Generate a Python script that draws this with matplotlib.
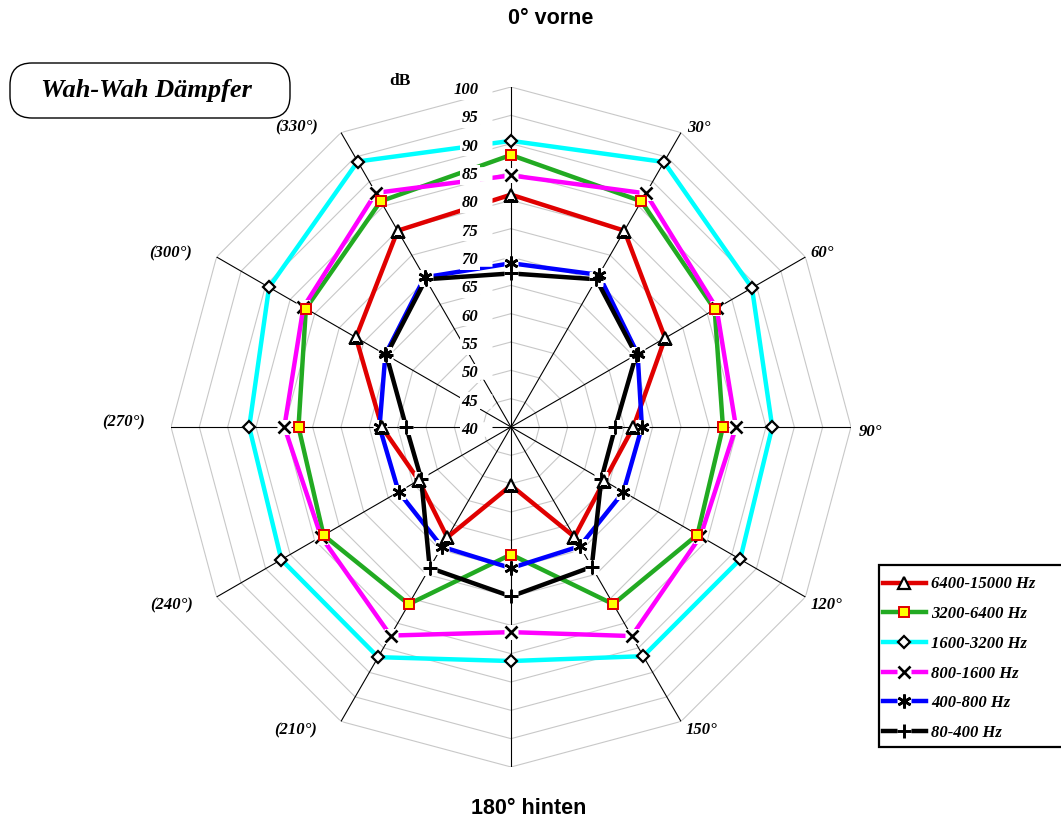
import numpy as np
import matplotlib
matplotlib.use("Agg")
import matplotlib.pyplot as plt
from matplotlib.lines import Line2D
from matplotlib.patches import FancyBboxPatch, Rectangle
from matplotlib.transforms import IdentityTransform, ScaledTranslation

# directions in degrees, clockwise from front
angles = [0, 30, 60, 90, 120, 150, 180, 210, 240, 270, 300, 330]
angle_labels = ["", "30°", "60°", "90°", "120°", "150°", "",
                "(210°)", "(240°)", "(270°)", "(300°)", "(330°)"]
db_ticks = list(range(40, 101, 5))

band_names = ["6400-15000 Hz", "3200-6400 Hz", "1600-3200 Hz",
              "800-1600 Hz", "400-800 Hz", "80-400 Hz"]

# level per direction (dB)
hz_6400_15000 = [81.0, 80.0, 71.4, 61.6, 59.0, 62.4, 50.3, 62.5, 58.8, 62.8, 71.6, 80.0]
hz_3200_6400 = [88.0, 86.0, 81.5, 77.4, 78.0, 76.1, 62.5, 76.1, 78.2, 77.5, 81.8, 86.0]
hz_1600_3200 = [90.5, 94.0, 89.1, 86.1, 86.7, 86.7, 81.3, 86.9, 86.8, 86.2, 89.3, 94.1]
hz_800_1600 = [84.4, 87.6, 81.9, 79.7, 78.6, 82.6, 76.2, 82.5, 78.7, 80.0, 82.3, 87.7]
hz_400_800 = [68.9, 71.0, 65.8, 63.1, 62.9, 64.3, 64.9, 64.4, 62.9, 63.2, 65.6, 70.5]
hz_80_400 = [67.1, 70.1, 65.5, 58.4, 58.4, 68.5, 69.9, 68.7, 58.3, 58.5, 65.4, 70.1]

W, H = 1061, 825
fig = plt.figure(figsize=(W / 100, H / 100), dpi=100)
fig.patch.set_facecolor("white")

ax = fig.add_axes([171 / W, 58 / H, 680 / W, 680 / H], projection="polar")
ax.set_theta_zero_location("N")
ax.set_theta_direction(-1)
ax.set_ylim(40, 100)
ax.grid(False)
ax.set_xticks([])
ax.set_yticks([])
for sp in ax.spines.values():
    sp.set_visible(False)

theta = np.deg2rad(angles)
theta_c = np.append(theta, theta[0])

serif = "Liberation Serif"

# polygon grid and spokes
for v in db_ticks[1:]:
    ax.plot(theta_c, [v] * len(theta_c), color="#c8c8c8", lw=0.8, zorder=1)
for t in theta:
    ax.plot([t, t], [40, 100], color="black", lw=0.8, zorder=1.5)

red = "#e00000"
styles = [
    dict(color=red, marker="^", ms=8, mfc="white", mec="black", mew=1.6, box=False),
    dict(color="#22aa22", marker="s", ms=7.5, mfc="#ffff00", mec=red, mew=1.4, box=False),
    dict(color="#00ffff", marker="D", ms=6, mfc="white", mec="black", mew=1.6, box=False),
    dict(color="#ff00ff", marker="x", ms=8.5, mfc="none", mec="black", mew=1.9, box=True),
    dict(color="#0000ff", marker=(6, 2, 0), ms=10, mfc="none", mec="black", mew=1.9, box=True),
    dict(color="black", marker="+", ms=10, mfc="none", mec="black", mew=2.1, box=True),
]
series = [hz_6400_15000, hz_3200_6400, hz_1600_3200, hz_800_1600, hz_400_800, hz_80_400]
draw_order = [5, 4, 3, 2, 1, 0]

for i in draw_order:
    st = styles[i]
    vals = np.append(series[i], series[i][0])
    ax.plot(theta_c, vals, color=st["color"], lw=3.2, solid_joinstyle="miter",
            zorder=2 + i * 0.01)
for i in draw_order:
    if styles[i]["box"]:
        ax.plot(theta, series[i], ls="none", marker="s", ms=9.5, mfc="white",
                mec="none", zorder=3)
for i in draw_order:
    st = styles[i]
    ax.plot(theta, series[i], ls="none", marker=st["marker"], ms=st["ms"],
            mfc=st["mfc"], mec=st["mec"], mew=st["mew"], zorder=4)

# white strip behind the dB scale, left of the front spoke
strip = ax.transData + ScaledTranslation(-0.35, -0.02, fig.dpi_scale_trans)
ax.plot([0] * len(db_ticks), db_ticks, transform=strip, ls="none", marker="_",
        ms=23, mew=10.5, color="white", zorder=5, clip_on=False)
for v in db_ticks:
    ax.annotate(str(v), xy=(0, v), xytext=(-23.5, -2.2), textcoords="offset points",
                ha="right", va="center", family=serif, weight="bold",
                style="italic", fontsize=12, zorder=6,
                bbox=dict(boxstyle="square,pad=0.1", fc="white", ec="none"))

# direction labels
label_spots = [None, (32.2, 102.3), (60.8, 102.9), (90.8, 103.5), (119.4, 104.0),
               (147.8, 103.2), None, (215.4, 105.6), (242.3, 107.6),
               (270.7, 108.3), (297.0, 107.5), (324.3, 105.0)]
for lab, spot in zip(angle_labels, label_spots):
    if spot is None:
        continue
    ax.text(np.deg2rad(spot[0]), spot[1], lab, ha="center", va="center",
            family=serif, weight="bold", style="italic", fontsize=12,
            clip_on=False)

fig.text(400 / W, 1 - 81 / H, "dB", ha="center", va="center", family=serif,
         weight="bold", fontsize=12.5)
fig.text(551 / W, 1 - 18 / H, "0° vorne", ha="center", va="center",
         family="Liberation Sans", weight="bold", fontsize=15.5)
fig.text(529 / W, 1 - 809 / H, "180° hinten", ha="center", va="center",
         family="Liberation Sans", weight="bold", fontsize=15.5)

# title plate
plate = FancyBboxPatch((10, H - 118), 280, 55,
                       boxstyle="round,pad=0,rounding_size=22",
                       fc="white", ec="black", lw=1.0,
                       transform=IdentityTransform())
fig.add_artist(plate)
fig.text(146 / W, 1 - 91 / H, "Wah-Wah Dämpfer", ha="center", va="center",
         family=serif, weight="bold", style="italic", fontsize=19)

# legend (frame drawn separately, it runs off the right edge)
legend_frame = Rectangle((879, H - 747), 200, 182, fc="white", ec="black",
                         lw=1.6, transform=IdentityTransform())
fig.add_artist(legend_frame)
handles = []
for st in styles:
    parts = [Line2D([], [], color=st["color"], lw=3.2)]
    if st["box"]:
        parts.append(Line2D([], [], ls="none", marker="s", ms=9.5, mfc="white", mec="none"))
    parts.append(Line2D([], [], ls="none", marker=st["marker"], ms=st["ms"],
                        mfc=st["mfc"], mec=st["mec"], mew=st["mew"]))
    handles.append(tuple(parts))
leg = fig.legend(handles, band_names, loc="upper left",
                 bbox_to_anchor=(875 / W, 1 - 569 / H), frameon=False,
                 handlelength=2.6, handletextpad=0.3,
                 labelspacing=0.82, borderpad=0.45, borderaxespad=0,
                 prop=dict(family=serif, weight="bold", style="italic", size=12))

fig.savefig("out.png", dpi=100, facecolor="white")
